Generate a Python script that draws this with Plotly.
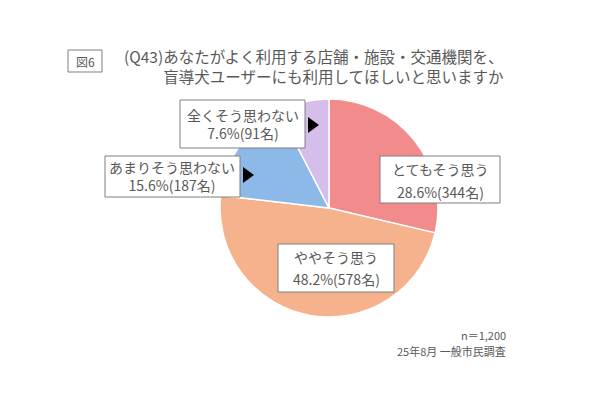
import plotly.graph_objects as go

# 回答区分と人数 (n=1,200)
labels = ["とてもそう思う", "ややそう思う", "あまりそう思わない", "全くそう思わない"]
counts = [344, 578, 187, 91]
shares = [28.6, 48.2, 15.6, 7.6]
colors = ["#F28B8C", "#F5B28D", "#8DB9E8", "#D6BEEB"]

title_lines = ["(Q43)あなたがよく利用する店舗・施設・交通機関を、",
               "盲導犬ユーザーにも利用してほしいと思いますか"]
notes = ["n＝1,200", "25年8月 一般市民調査"]

W, H = 600, 400
OFF = 8  # page body margin
FONT = "Noto Sans CJK JP"
GREY = "#595959"


def px(x):
    return (x - OFF) / W


def py(y):
    return 1 - (y - OFF) / H


fig = go.Figure()
fig.add_trace(
    go.Pie(
        labels=labels,
        values=counts,
        sort=False,
        direction="clockwise",
        rotation=0,
        textinfo="none",
        marker=dict(colors=colors, line=dict(color="white", width=1.5)),
        domain=dict(x=[px(220), px(438)], y=[py(317), py(99)]),
        showlegend=False,
    )
)

# ラベルの枠 (x0, y0, x1, y1)、中心x、行位置 (1つなら<br>でまとめる)
boxes = [
    ((380, 156, 500, 203), 440, (169, 192)),
    ((278, 244, 394, 292), 336, (257, 279)),
    ((105, 156, 240, 197), 172, (176,)),
    ((180, 100, 305, 148), 243, (124,)),
]

shapes = []
annotations = []
for i, ((x0, y0, x1, y1), cx, rows) in enumerate(boxes):
    shapes.append(dict(type="rect", xref="paper", yref="paper",
                       x0=px(x0), x1=px(x1), y0=py(y1), y1=py(y0),
                       fillcolor="white", line=dict(color="#7F7F7F", width=1)))
    texts = [labels[i], f"{shares[i]}%({counts[i]}名)"]
    if len(rows) == 1:
        texts = ["<br>".join(texts)]
    for t, ly in zip(texts, rows):
        annotations.append(dict(text=t, x=px(cx), y=py(ly), xref="paper", yref="paper",
                                xanchor="center", yanchor="middle", showarrow=False,
                                font=dict(family=FONT, size=14, color=GREY)))

# 吹き出しの矢印
for (ax, ay) in [(308, 125), (243, 175)]:
    shapes.append(dict(type="path", xref="paper", yref="paper",
                       path=f"M {px(ax)} {py(ay - 8)} L {px(ax)} {py(ay + 8)} L {px(ax + 11)} {py(ay)} Z",
                       fillcolor="black", line=dict(color="black", width=0)))

# 図番号
shapes.append(dict(type="rect", xref="paper", yref="paper",
                   x0=px(68), x1=px(102), y0=py(72), y1=py(50),
                   fillcolor="white", line=dict(color="#7F7F7F", width=1)))
annotations.append(dict(text="図6", x=px(85), y=py(61), xref="paper", yref="paper",
                        xanchor="center", yanchor="middle", showarrow=False,
                        font=dict(family=FONT, size=12, color=GREY)))

annotations.append(dict(text="<br>".join(title_lines), x=px(505), y=py(66),
                        xref="paper", yref="paper", align="right",
                        xanchor="right", yanchor="middle", showarrow=False,
                        font=dict(family=FONT, size=15.5, color=GREY)))

for t, ly in zip(notes, (335, 351)):
    annotations.append(dict(text=t, x=px(508), y=py(ly), xref="paper", yref="paper",
                            xanchor="right", yanchor="middle", showarrow=False,
                            font=dict(family=FONT, size=11, color=GREY)))

fig.update_layout(
    width=W, height=H,
    margin=dict(l=0, r=0, t=0, b=0),
    paper_bgcolor="white",
    plot_bgcolor="white",
    shapes=shapes,
    annotations=annotations,
)

fig.write_html("out.html")
